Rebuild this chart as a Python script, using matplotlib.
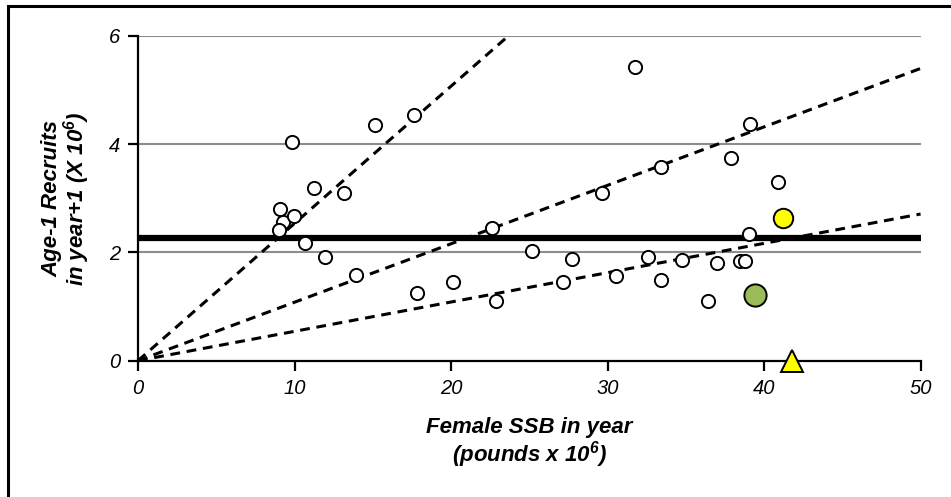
"""
Stock-recruit scatter: age-1 recruits vs female spawning stock biomass,
with replacement lines through the origin and the median recruitment.
"""
import numpy as np
import matplotlib.pyplot as plt
from matplotlib.patches import Rectangle

# historical year pairs (SSB, recruits the following year)
ssb = [9.82, 15.14, 17.64, 11.25, 13.16, 9.07, 9.24, 9.97, 8.99, 10.67,
       11.95, 13.91, 17.83, 20.1, 22.65, 22.85, 25.2, 31.76, 39.1, 37.87,
       33.4, 29.66, 40.9, 39.04, 27.75, 32.57, 34.78, 37.0, 38.47, 38.79,
       27.18, 30.52, 33.4, 36.44]
recruits = [4.04, 4.35, 4.54, 3.19, 3.09, 2.80, 2.57, 2.67, 2.41, 2.18,
            1.91, 1.58, 1.25, 1.46, 2.45, 1.10, 2.03, 5.42, 4.37, 3.74,
            3.57, 3.10, 3.31, 2.34, 1.87, 1.91, 1.86, 1.81, 1.85, 1.85,
            1.46, 1.57, 1.49, 1.10]

# highlighted recent years
yellow_pt = (41.24, 2.63)
green_pt = (39.42, 1.21)
triangle_pt = (41.77, 0.0)

# slopes of the lines through the origin (recruits per unit SSB)
slopes = [0.2536, 0.108, 0.0542]
median_recruits = 2.26

x_ticks = [0, 10, 20, 30, 40, 50]
y_ticks = [0, 2, 4, 6]

FONT = "Liberation Sans"

plt.rcParams["mathtext.fontset"] = "custom"
plt.rcParams["mathtext.rm"] = "Liberation Sans:italic:bold"
plt.rcParams["mathtext.it"] = "Liberation Sans:italic:bold"


def main():
    fig = plt.figure(figsize=(9.51, 4.97), dpi=100)
    ax = fig.add_axes([0.1451, 0.2743, 0.8229, 0.6533])

    # frame around the whole figure
    fig.patches.append(Rectangle((8 / 951, -0.05), 1.1, 1.05 - 6 / 497,
                                 transform=fig.transFigure, fill=False,
                                 edgecolor="black", linewidth=2.2))

    ax.set_xlim(0, 50)
    ax.set_ylim(0, 6)

    for yv in y_ticks[1:]:
        ax.axhline(yv, color="#8c8c8c", linewidth=1.5, zorder=1)

    xs = np.array([0, 50])
    for s in slopes:
        ax.plot(xs, s * xs, color="black", linestyle=(0, (3.2, 2.2)),
                linewidth=2.2, zorder=2)

    ax.axhline(median_recruits, color="black", linewidth=4.5, zorder=3)

    ax.plot(ssb, recruits, linestyle="none", marker="o", markersize=9.5,
            markerfacecolor="white", markeredgecolor="black",
            markeredgewidth=1.4, zorder=4)
    ax.plot(*yellow_pt, marker="o", markersize=14, markerfacecolor="#ffff00",
            markeredgecolor="black", markeredgewidth=1.4, zorder=5)
    ax.plot(*green_pt, marker="o", markersize=16, markerfacecolor="#9bbb59",
            markeredgecolor="black", markeredgewidth=1.4, zorder=5)
    ax.plot(*triangle_pt, marker="^", markersize=16, markerfacecolor="#ffff00",
            markeredgecolor="black", markeredgewidth=1.4, zorder=6,
            clip_on=False)

    for side in ("top", "right"):
        ax.spines[side].set_visible(False)
    for side in ("left", "bottom"):
        ax.spines[side].set_linewidth(1.6)
        ax.spines[side].set_zorder(3.5)

    ax.set_xticks(x_ticks)
    ax.set_yticks(y_ticks)
    ax.set_xticklabels([str(t) for t in x_ticks])
    ax.set_yticklabels([str(t) for t in y_ticks])
    ax.tick_params(direction="out", length=7, width=1.6, pad=6)
    for lab in ax.get_xticklabels() + ax.get_yticklabels():
        lab.set_fontfamily(FONT)
        lab.set_fontstyle("italic")
        lab.set_fontsize(14.5)

    ax.set_xlabel("Female SSB in year\n(pounds x 10$^6$)", fontfamily=FONT,
                  fontstyle="italic", fontweight="bold", fontsize=16,
                  labelpad=14, linespacing=1.05)
    ax.set_ylabel("Age-1 Recruits\nin year+1 (X 10$^6$)", fontfamily=FONT,
                  fontstyle="italic", fontweight="bold", fontsize=16,
                  labelpad=12, linespacing=0.95)

    fig.savefig("out.png", dpi=100)


if __name__ == "__main__":
    main()
